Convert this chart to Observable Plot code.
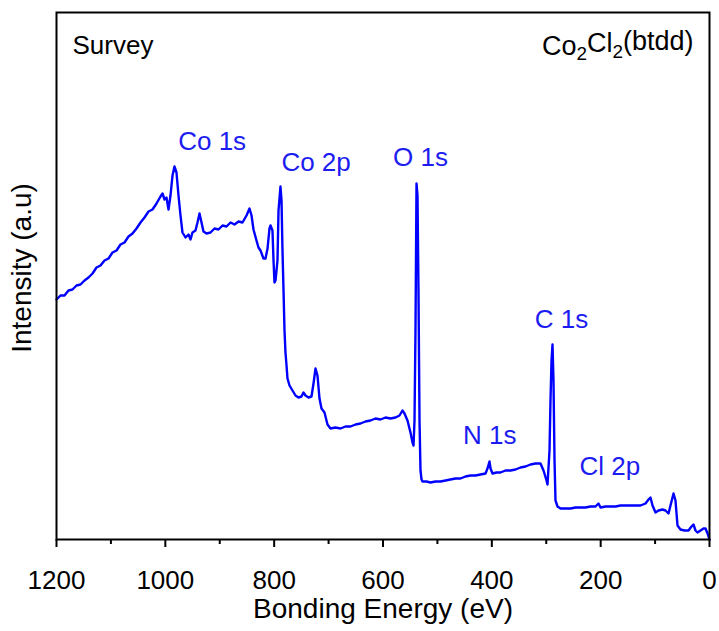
<!DOCTYPE html>
<html>
<head>
<meta charset="utf-8">
<script src="https://cdn.jsdelivr.net/npm/d3@7"></script>
<script src="https://cdn.jsdelivr.net/npm/@observablehq/plot@0.6"></script>
<style>
  html, body { margin: 0; padding: 0; background: white; }
</style>
</head>
<body>
<div id="chart"></div>
<script>
// Binding energy (eV) and intensity (a.u.)
const energy = [
  1200, 1192.6, 1185.3, 1178.0, 1170.6, 1163.2, 1155.9, 1148.5, 1141.2, 1133.8,
  1126.5, 1119.1, 1111.8, 1104.4, 1097.1, 1089.7, 1082.4, 1075.0, 1067.7, 1060.3,
  1053.0, 1045.6, 1038.3, 1030.9, 1023.6, 1016.2, 1008.9, 1005.2, 1001.5, 997.9,
  994.2, 990.5, 986.8, 983.2, 979.5, 975.8, 972.1, 968.5, 962.9, 957.4,
  953.7, 950.1, 944.6, 940.9, 937.2, 933.5, 929.9, 924.3, 917.0, 909.6,
  902.3, 894.9, 887.6, 880.2, 872.9, 865.5, 858.2, 850.8, 845.3, 841.6,
  838.0, 832.5, 828.8, 825.1, 819.6, 815.9, 812.2, 808.6, 806.7, 803.1,
  801.2, 799.4, 797.5, 793.9, 792.0, 788.4, 786.5, 784.7, 782.8, 781.0,
  779.2, 777.3, 775.5, 771.8, 766.3, 760.8, 755.3, 749.8, 746.1, 742.4,
  736.9, 731.4, 727.7, 724.0, 720.4, 716.7, 713.0, 707.5, 702.0, 696.5,
  687.3, 678.1, 668.9, 659.7, 650.5, 641.3, 632.2, 623.0, 613.8, 604.6,
  595.4, 586.2, 577.0, 569.7, 564.2, 560.5, 555.0, 549.5, 545.8, 543.9,
  542.1, 540.3, 538.4, 536.6, 534.8, 532.9, 531.1, 529.2, 527.4, 520.1,
  512.7, 503.5, 494.3, 485.1, 476.0, 466.8, 457.6, 448.4, 439.2, 430.0,
  420.8, 411.6, 408.0, 404.3, 402.4, 398.8, 391.4, 384.1, 374.9, 365.7,
  356.5, 347.3, 338.1, 328.9, 319.7, 310.6, 305.0, 299.5, 297.7, 294.0,
  292.2, 290.3, 288.5, 286.7, 284.8, 283.0, 279.3, 273.8, 264.6, 255.4,
  246.2, 237.0, 227.9, 218.7, 209.5, 204.0, 200.3, 191.1, 181.9, 172.7,
  163.5, 154.4, 145.2, 136.0, 126.8, 117.6, 112.1, 108.4, 104.7, 99.2,
  93.7, 86.4, 80.8, 75.3, 71.7, 66.1, 62.5, 58.8, 53.3, 45.9,
  38.6, 33.1, 29.4, 25.7, 22.0, 16.5, 11.0, 7.3, 3.6, 0
];
const intensity = [
  240, 244, 244, 249, 250, 254, 255, 259, 262, 266,
  272, 274, 279, 281, 287, 289, 295, 297, 303, 306,
  311, 317, 322, 328, 330, 336, 343, 346, 340, 342,
  330, 344, 364, 373, 367, 344, 324, 307, 302, 305,
  300, 307, 309, 317, 326, 317, 308, 306, 307, 311,
  310, 314, 313, 317, 315, 318, 317, 324, 331, 324,
  310, 299, 292, 289, 281, 281, 291, 311, 314, 309,
  279, 257, 259, 279, 329, 353, 339, 289, 249, 209,
  187, 174, 161, 154, 149, 144, 142, 143, 147, 144,
  142, 143, 156, 171, 164, 141, 131, 127, 115, 111,
  112, 111, 113, 113, 115, 116, 118, 119, 121, 120,
  122, 121, 122, 124, 129, 126, 119, 107, 97, 94,
  119, 209, 356, 344, 249, 119, 69, 60, 58, 58,
  57, 58, 58, 59, 60, 61, 61, 63, 64, 64,
  65, 66, 71, 78, 71, 66, 67, 67, 69, 69,
  70, 72, 73, 75, 76, 76, 69, 59, 55, 89,
  139, 179, 195, 159, 79, 39, 33, 31, 31, 31,
  32, 32, 32, 33, 33, 36, 32, 33, 33, 33,
  34, 34, 34, 34, 34, 36, 40, 42, 34, 27,
  29, 30, 29, 26, 34, 46, 39, 14, 10, 9,
  9, 13, 15, 9, 7, 9, 11, 11, 6, 0
];

const xMajorTicks = [1200, 1000, 800, 600, 400, 200, 0];
const xMinorTicks = [1100, 900, 700, 500, 300, 100];

const peakNames = ["Co 1s", "Co 2p", "O 1s", "N 1s", "C 1s", "Cl 2p"];
const peakLabelEnergy = [914, 723, 531, 404, 272, 183];
const peakLabelIntensity = [390, 369, 374, 96, 212, 65];

const data = energy.map((e, i) => ({E: e, I: intensity[i]}));
const labels = peakNames.map((n, i) => ({name: n, E: peakLabelEnergy[i], I: peakLabelIntensity[i]}));

const font = "'Liberation Sans', Arial, Helvetica, sans-serif";
const blue = "#1c1cf0";

const chart = Plot.plot({
  width: 719,
  height: 631,
  marginLeft: 56,
  marginRight: 10,
  marginTop: 12,
  marginBottom: 92,
  style: {fontFamily: font, fontSize: "26px", background: "white", color: "black", overflow: "visible"},
  x: {domain: [1200, 0], axis: null},
  y: {domain: [0, 527], axis: null},
  marks: [
    Plot.line(data, {x: "E", y: "I", stroke: "#0000ff", strokeWidth: 2.4}),
    Plot.axisX(xMinorTicks, {anchor: "bottom", tickSize: 5, strokeWidth: 2, tickFormat: null, text: null, label: null}),
    Plot.axisX(xMajorTicks, {anchor: "bottom", tickSize: 8, tickPadding: 23, strokeWidth: 2, fontSize: 26, label: null, tickFormat: d => String(d)}),
    Plot.frame({stroke: "black", strokeWidth: 2}),
    Plot.text(labels, {x: "E", y: "I", text: "name", fill: blue, fontSize: 26, textAnchor: "middle", lineAnchor: "bottom"}),
    Plot.text(["Survey"], {frameAnchor: "top-left", dx: 16, dy: 23, fontSize: 26, fill: "black", textAnchor: "start", lineAnchor: "top"}),
    Plot.text(["Co2Cl2(btdd)"], {frameAnchor: "top-right", dx: -16, dy: 23, fontSize: 27, fill: "black", textAnchor: "end", lineAnchor: "top"}),
    Plot.text(["Bonding Energy (eV)"], {frameAnchor: "bottom", dy: 59, fontSize: 28, fill: "black", textAnchor: "middle", lineAnchor: "top"}),
    Plot.text(["Intensity (a.u)"], {frameAnchor: "left", dx: -34, dy: -8, fontSize: 28, fill: "black", rotate: -90, textAnchor: "middle", lineAnchor: "middle"})
  ]
});

// subscripts for the compound name
d3.select(chart).selectAll("text").each(function() {
  const t = d3.select(this);
  if (t.text() === "Co2Cl2(btdd)") {
    t.text(null);
    t.append("tspan").text("Co");
    t.append("tspan").attr("font-size", "0.7em").attr("dy", "0.3em").text("2");
    t.append("tspan").attr("dy", "-0.3em").text("Cl");
    t.append("tspan").attr("font-size", "0.7em").attr("dy", "0.3em").text("2");
    t.append("tspan").attr("dy", "-0.3em").text("(btdd)");
  }
});

document.getElementById("chart").appendChild(chart);
</script>
</body>
</html>
